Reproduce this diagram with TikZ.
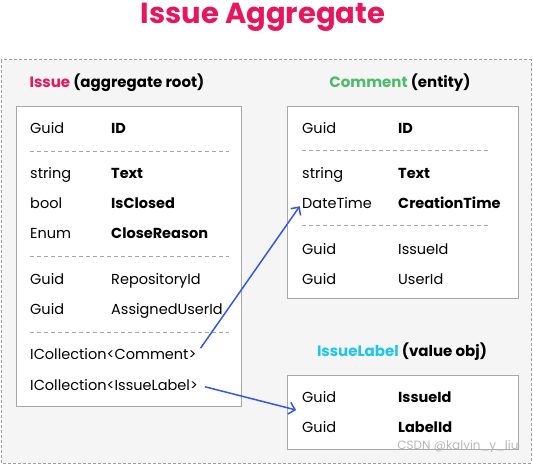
\documentclass[tikz,border=0pt]{standalone}
\usepackage{fontspec}
\setmainfont{Poppins}
\usetikzlibrary{arrows.meta}

\definecolor{aggpink}{HTML}{E8175D}
\definecolor{entgreen}{HTML}{4CBB6C}
\definecolor{valcyan}{HTML}{1CC6EE}
\definecolor{linkblue}{HTML}{3558E4}
\definecolor{boxgray}{HTML}{A8A8A8}
\definecolor{bggray}{HTML}{F5F5F5}

\begin{document}
\begin{tikzpicture}[x=1pt, y=-1pt, >={Straight Barb[length=6pt,width=12pt]},
  font=\fontsize{14.5}{17}\selectfont,
  frame/.style={draw=gray!75, fill=bggray, dash pattern=on 3pt off 2pt, line width=1pt},
  box/.style={draw=boxgray, fill=white, line width=0.8pt},
  sep/.style={draw=boxgray, dash pattern=on 4pt off 3pt, line width=0.6pt},
  cell/.style={anchor=west, inner sep=0pt, text height=10.5pt, text depth=0pt},
  head/.style={inner sep=0pt, font=\fontsize{15}{18}\selectfont\bfseries},
  link/.style={->, draw=linkblue, line width=1.5pt, shorten <=7pt, shorten >=4pt},
]
  \useasboundingbox (0,0) rectangle (533,465);

  \node[inner sep=0pt, text=aggpink, font=\fontsize{29}{33}\selectfont\bfseries] (title) at (263,17) {Issue Aggregate};

  \draw[frame] (1,60) rectangle (531,463);

  % Issue
  \node[head] (issuehd) at (117,83) {\textcolor{aggpink}{Issue} (aggregate root)};
  \draw[box] (16,106) rectangle (241,406);
  \foreach \y/\t/\n [count=\k] in {128/Guid/\textbf{ID}, 173/string/\textbf{Text},
      203/bool/\textbf{IsClosed}, 233/Enum/\textbf{CloseReason},
      279/Guid/RepositoryId, 309/Guid/AssignedUserId} {
    \node[cell] (it\k) at (30,\y) {\t};
    \node[cell] (in\k) at (111,\y) {\n};
  }
  \draw[sep] (30,151) -- (229,151);
  \draw[sep] (30,256) -- (229,256);
  \draw[sep] (30,332) -- (229,332);
  \node[cell] (icom) at (30,354) {ICollection<Comment>};
  \node[cell] (ilab) at (30,385) {ICollection<IssueLabel>};

  % Comment
  \node[head] (commenthd) at (400,83) {\textcolor{entgreen}{Comment} (entity)};
  \draw[box] (287,106) rectangle (518,298);
  \foreach \y/\t/\n [count=\k] in {128/Guid/\textbf{ID}, 173/string/\textbf{Text},
      203/DateTime/\textbf{CreationTime}, 249/Guid/IssueId, 279/Guid/UserId} {
    \node[cell] (ct\k) at (302,\y) {\t};
    \node[cell] (cn\k) at (398,\y) {\n};
  }
  \draw[sep] (302,150) -- (491,150);
  \draw[sep] (302,225) -- (491,225);

  % IssueLabel
  \node[head] (labelhd) at (402,352) {\textcolor{valcyan}{IssueLabel} (value obj)};
  \draw[box] (287,375) rectangle (518,449);
  \foreach \y/\t/\n [count=\k] in {397/Guid/\textbf{IssueId}, 427/Guid/\textbf{LabelId}} {
    \node[cell] (lt\k) at (302,\y) {\t};
    \node[cell] (ln\k) at (398,\y) {\n};
  }
  \coordinate (lin) at (300,411);

  \draw[link] (icom.east) -- (ct3.west);
  \draw[link] (ilab.east) -- (lin);

  \node[inner sep=0pt, text=gray!55, font=\fontsize{12}{14}\selectfont] (mark) at (458,446) {CSDN @kalvin\_y\_liu};
\end{tikzpicture}
\end{document}
